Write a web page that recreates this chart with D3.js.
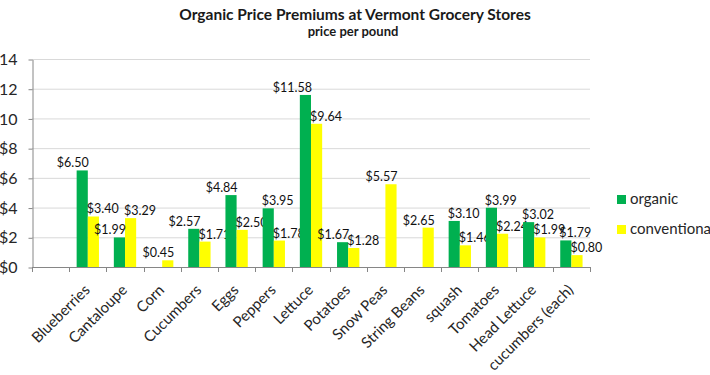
<!DOCTYPE html>
<html>
<head>
<meta charset="utf-8">
<script src="https://cdn.jsdelivr.net/npm/d3@7"></script>
<style>
  body { margin: 0; background: #fff; }
  svg { display: block; }
</style>
</head>
<body>
<div id="chart"></div>
<script>
// first slot is an empty category, as in the original sheet
var categories = ['', 'Blueberries', 'Cantaloupe', 'Corn', 'Cucumbers', 'Eggs', 'Peppers', 'Lettuce',
    'Potatoes', 'Snow Peas', 'String Beans', 'squash', 'Tomatoes', 'Head Lettuce', 'cucumbers (each)'];
var organic = [null, 6.50, 1.99, null, 2.57, 4.84, 3.95, 11.58, 1.67, null, null, 3.10, 3.99, 3.02, 1.79];
var conventional = [null, 3.40, 3.29, 0.45, 1.71, 2.50, 1.78, 9.64, 1.28, 5.57, 2.65, 1.46, 2.24, 1.99, 0.80];
var seriesNames = ['organic', 'conventional'];
var yTicks = [0, 2, 4, 6, 8, 10, 12, 14];

// which side of the green bar its label hangs from (labels were dragged by hand in the original)
var organicLabelSide = ['end', 'end', 'end', 'end', 'end', 'end', 'start', 'end',
    'end', 'end', 'end', 'start', 'start', 'start', 'start'];

var colors = {organic: '#00b050', conventional: '#ffff00'};
var font = 'Lato, "Open Sans", sans-serif';

var width = 710, height = 375;
var svg = d3.select('#chart').append('svg')
    .attr('width', width)
    .attr('height', height);

var x = d3.scaleBand()
    .domain(categories.map(function (d, i) { return i; }))
    .range([32, 590])
    .paddingInner(0);

var x1 = d3.scaleBand()
    .domain(seriesNames)
    .range([x.bandwidth() * 0.2, x.bandwidth() * 0.8]);

var y = d3.scaleLinear()
    .domain([0, 14])
    .range([267, 59]);

// title
svg.append('text')
    .attr('x', 355).attr('y', 20)
    .attr('text-anchor', 'middle')
    .attr('font-family', font)
    .attr('font-weight', 'bold')
    .attr('font-size', 15.5)
    .attr('fill', '#1a1a1a')
    .text('Organic Price Premiums at Vermont Grocery Stores');

svg.append('text')
    .attr('x', 353).attr('y', 36)
    .attr('text-anchor', 'middle')
    .attr('font-family', font)
    .attr('font-weight', 'bold')
    .attr('font-size', 13)
    .attr('fill', '#1a1a1a')
    .text('price per pound');

// gridlines
svg.append('g')
    .selectAll('line')
    .data(yTicks.slice(1))
    .enter()
    .append('line')
    .attr('x1', 32).attr('x2', 590)
    .attr('y1', function (d) { return y(d) + 0.5; })
    .attr('y2', function (d) { return y(d) + 0.5; })
    .attr('stroke', '#d9d9d9')
    .attr('stroke-width', 1);

// y axis
var yAxis = svg.append('g')
    .attr('transform', 'translate(32.5,0.5)')
    .call(d3.axisLeft(y)
        .tickValues(yTicks)
        .tickSize(4)
        .tickSizeOuter(0)
        .tickPadding(11)
        .tickFormat(function (d) { return '$' + d; }));
yAxis.selectAll('path, line').attr('stroke', '#868686');
yAxis.selectAll('text')
    .attr('font-family', font)
    .attr('font-size', 16)
    .attr('fill', '#262626');

// bars
var groups = svg.append('g')
    .selectAll('g')
    .data(categories.map(function (c, i) {
        return {i: i, organic: organic[i], conventional: conventional[i], side: organicLabelSide[i]};
    }))
    .enter()
    .append('g')
    .attr('transform', function (d) { return 'translate(' + x(d.i) + ',0)'; });

seriesNames.forEach(function (s) {
    groups.filter(function (d) { return d[s] != null; })
        .append('rect')
        .attr('x', x1(s))
        .attr('width', x1.bandwidth())
        .attr('y', function (d) { return y(d[s]); })
        .attr('height', function (d) { return y(0) - y(d[s]); })
        .attr('fill', colors[s]);
});

// value labels
function labelSide(d, s) {
    if (s === 'organic') return d.side;
    return d.organic != null ? 'start' : 'end';
}

seriesNames.forEach(function (s) {
    groups.filter(function (d) { return d[s] != null; })
        .append('text')
        .attr('x', function (d) {
            return labelSide(d, s) === 'start' ? x1(s) - 1 : x1(s) + x1.bandwidth() + 1;
        })
        .attr('y', function (d) { return y(d[s]) - 3; })
        .attr('text-anchor', function (d) { return labelSide(d, s); })
        .attr('font-family', font)
        .attr('font-size', 12.5)
        .attr('fill', '#111')
        .text(function (d) { return '$' + d[s].toFixed(2); });
});

// x axis line and ticks at category boundaries
svg.append('line')
    .attr('x1', 32).attr('x2', 590)
    .attr('y1', y(0) + 0.5).attr('y2', y(0) + 0.5)
    .attr('stroke', '#868686');

var bounds = categories.map(function (d, i) { return x(i); }).concat([x.range()[1]]);
svg.append('g')
    .selectAll('line')
    .data(bounds)
    .enter()
    .append('line')
    .attr('x1', function (d) { return Math.round(d) + 0.5; })
    .attr('x2', function (d) { return Math.round(d) + 0.5; })
    .attr('y1', y(0)).attr('y2', y(0) + 5)
    .attr('stroke', '#868686');

// category labels
svg.append('g')
    .selectAll('text')
    .data(categories)
    .enter()
    .append('text')
    .attr('transform', function (d, i) {
        return 'translate(' + (x(i) + x.bandwidth() / 2 + 3) + ',291) rotate(-45)';
    })
    .attr('text-anchor', 'end')
    .attr('font-family', font)
    .attr('font-size', 15)
    .attr('fill', '#262626')
    .text(function (d) { return d; });

// legend
var legend = svg.append('g')
    .selectAll('g')
    .data(seriesNames)
    .enter()
    .append('g')
    .attr('transform', function (d, i) { return 'translate(617,' + (195 + i * 30) + ')'; });

legend.append('rect')
    .attr('width', 9).attr('height', 9)
    .attr('fill', function (d) { return colors[d]; });

legend.append('text')
    .attr('x', 13).attr('y', 9)
    .attr('font-family', font)
    .attr('font-size', 15)
    .attr('fill', '#262626')
    .text(function (d) { return d; });
</script>
</body>
</html>
